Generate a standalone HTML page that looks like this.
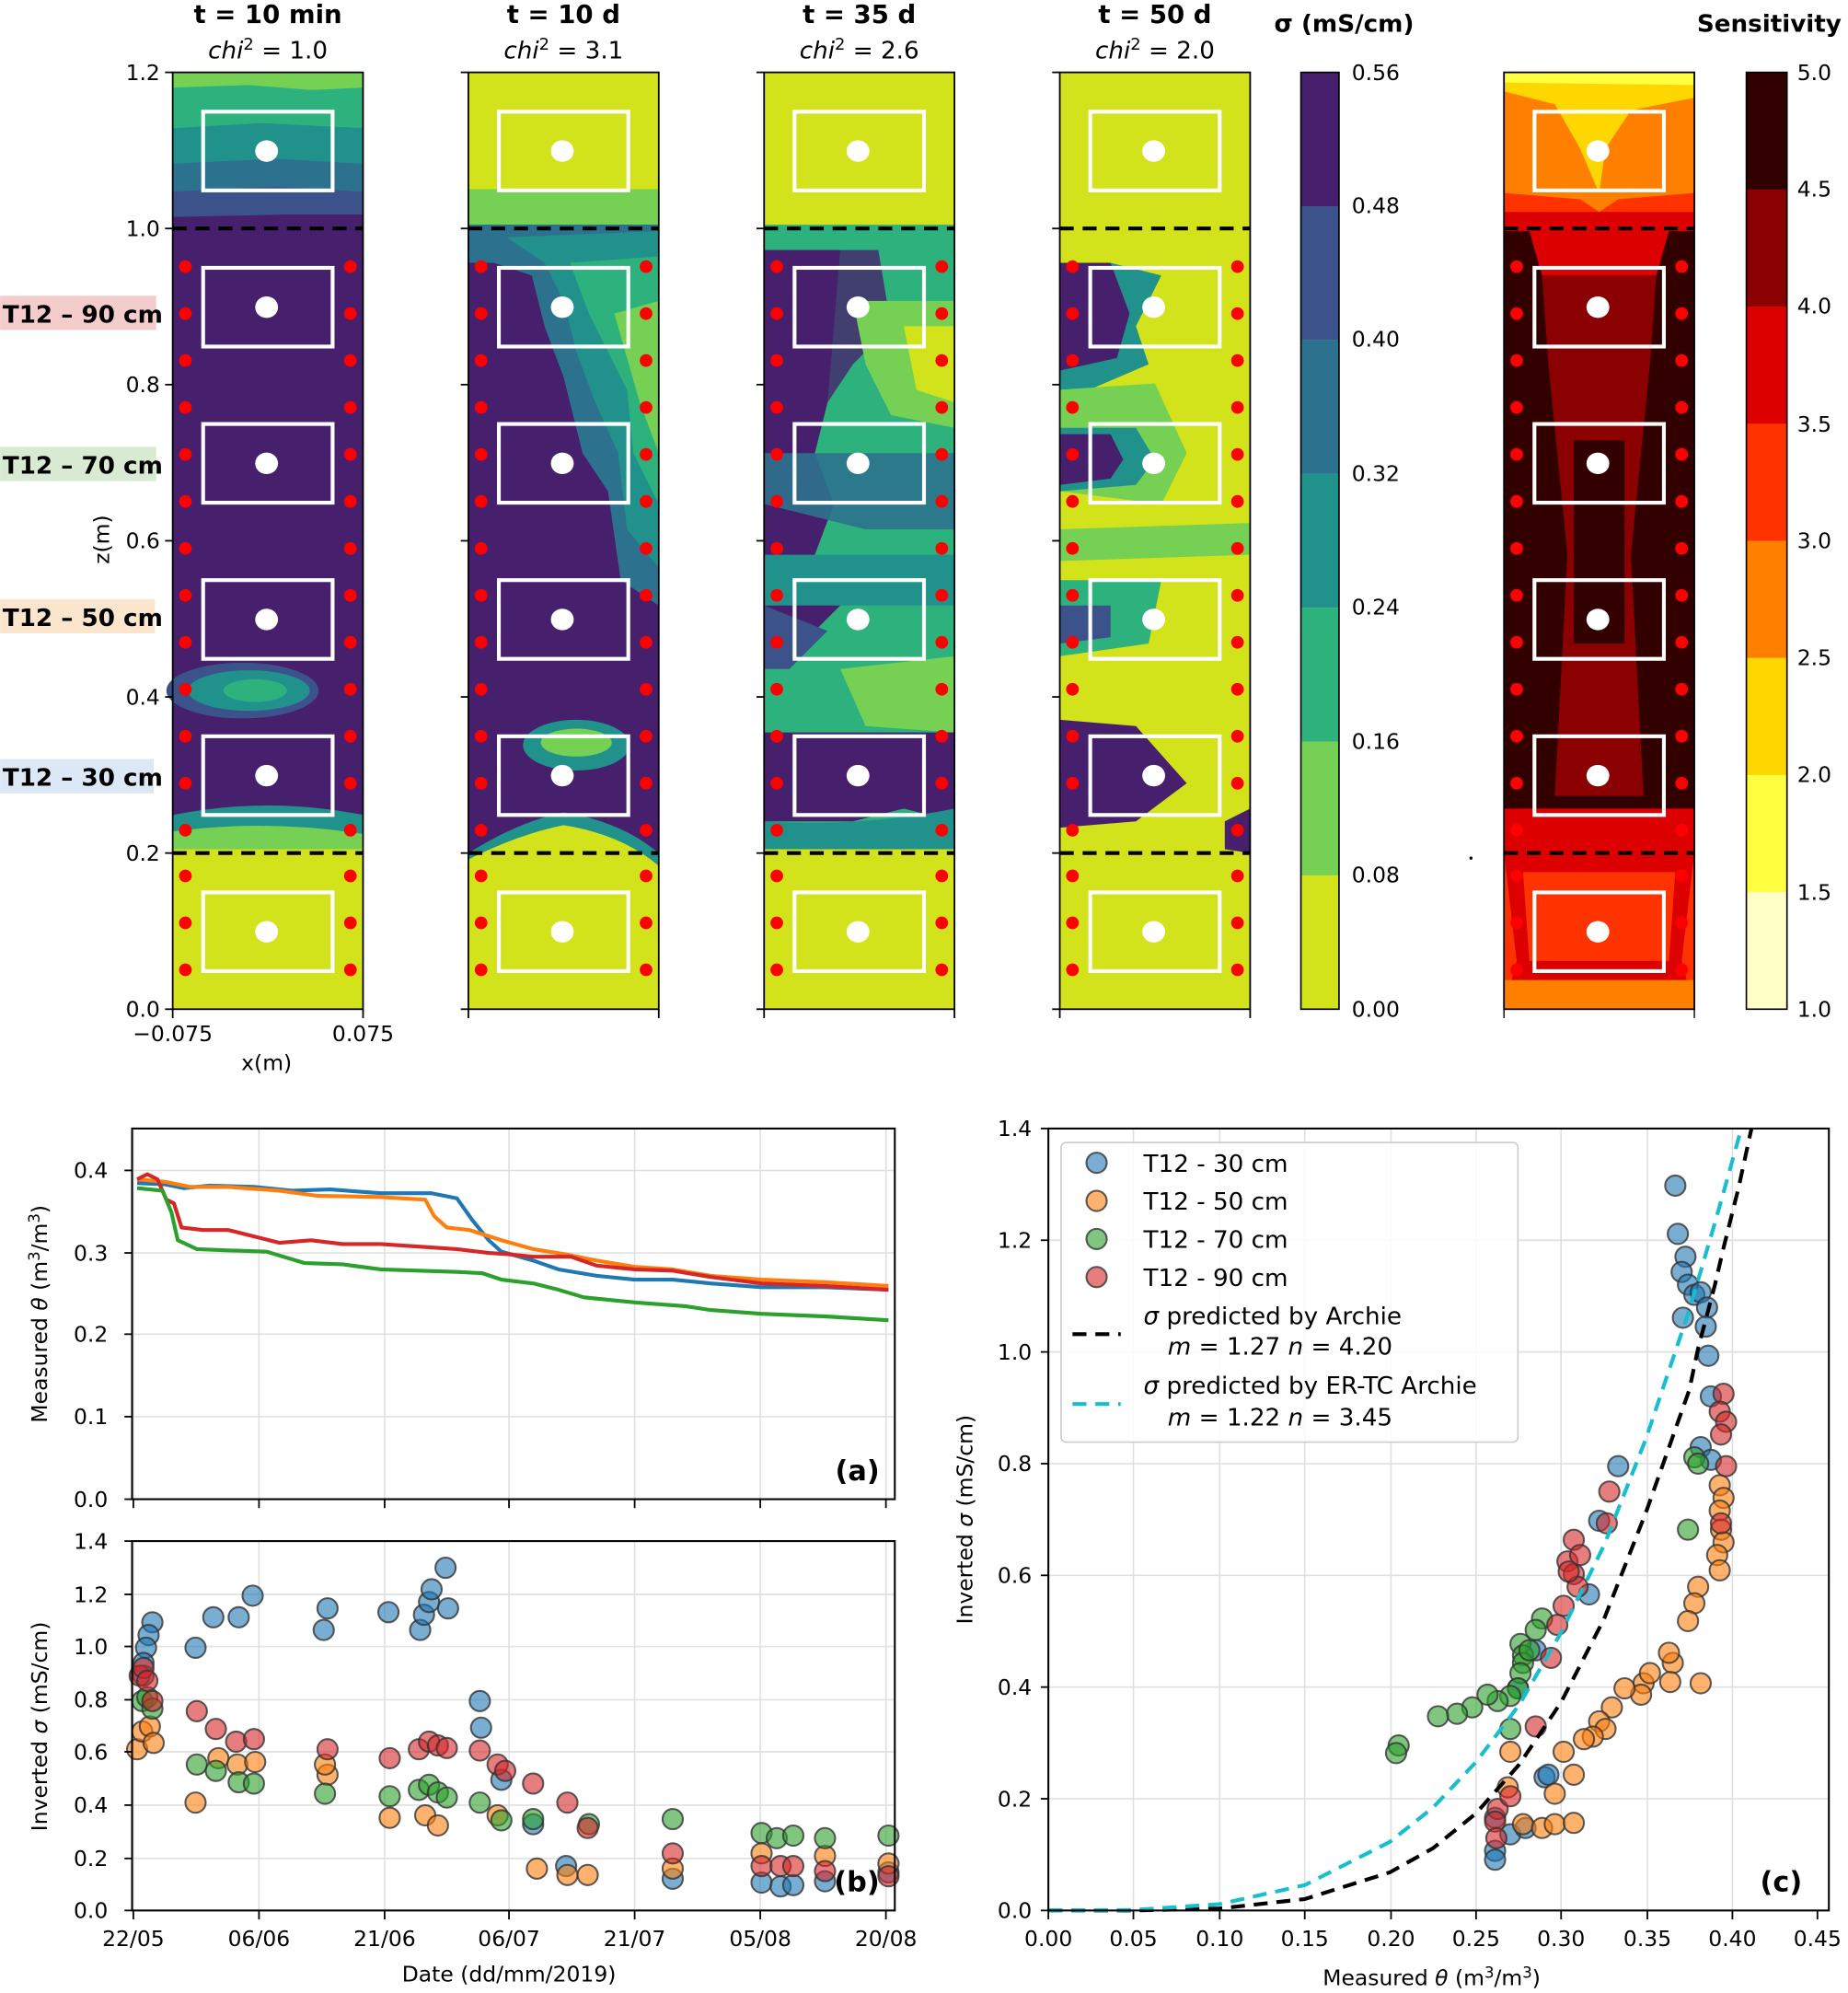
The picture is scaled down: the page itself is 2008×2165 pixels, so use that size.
<!DOCTYPE html>
<html><head><meta charset="utf-8"><style>
html,body{margin:0;padding:0;background:#fff}
svg{display:block}
text{font-family:"DejaVu Sans","Liberation Sans",sans-serif;fill:#000}
.t{font-size:17px}
.b{font-weight:bold}
.g{stroke:#e0e0e0;stroke-width:1.2}
.sb circle{fill:#1f77b4}.so circle{fill:#ff7f0e}.sg circle{fill:#2ca02c}.sr circle{fill:#d62728}
.sc circle{r:8;fill-opacity:.6;stroke:#333;stroke-opacity:.8;stroke-width:1.5}
</style></head><body>
<svg width="2008" height="2165" viewBox="0 0 1456 1570" xmlns="http://www.w3.org/2000/svg">
<defs>
<g id="boxes" fill="none" stroke="#fff" stroke-width="3">
<rect x="24" y="31" width="102" height="62"/><rect x="24" y="154" width="102" height="62"/>
<rect x="24" y="277" width="102" height="62"/><rect x="24" y="400" width="102" height="62"/>
<rect x="24" y="523" width="102" height="62"/><rect x="24" y="646" width="102" height="62"/>
<g fill="#fff" stroke="none"><ellipse cx="74" cy="62" rx="9" ry="8.5"/><ellipse cx="74" cy="185" rx="9" ry="8.5"/><ellipse cx="74" cy="308" rx="9" ry="8.5"/><ellipse cx="74" cy="431" rx="9" ry="8.5"/><ellipse cx="74" cy="554" rx="9" ry="8.5"/><ellipse cx="74" cy="677" rx="9" ry="8.5"/></g>
</g>
<g id="dots" fill="#f00">
<circle cx="10" cy="153" r="5"/><circle cx="10" cy="190" r="5"/><circle cx="10" cy="227" r="5"/><circle cx="10" cy="264" r="5"/><circle cx="10" cy="301" r="5"/><circle cx="10" cy="338" r="5"/><circle cx="10" cy="375" r="5"/><circle cx="10" cy="412" r="5"/><circle cx="10" cy="449" r="5"/><circle cx="10" cy="486" r="5"/><circle cx="10" cy="523" r="5"/><circle cx="10" cy="560" r="5"/><circle cx="10" cy="597" r="5"/><circle cx="10" cy="633" r="5"/><circle cx="10" cy="670" r="5"/><circle cx="10" cy="707" r="5"/>
<circle cx="140" cy="153" r="5"/><circle cx="140" cy="190" r="5"/><circle cx="140" cy="227" r="5"/><circle cx="140" cy="264" r="5"/><circle cx="140" cy="301" r="5"/><circle cx="140" cy="338" r="5"/><circle cx="140" cy="375" r="5"/><circle cx="140" cy="412" r="5"/><circle cx="140" cy="449" r="5"/><circle cx="140" cy="486" r="5"/><circle cx="140" cy="523" r="5"/><circle cx="140" cy="560" r="5"/><circle cx="140" cy="597" r="5"/><circle cx="140" cy="633" r="5"/><circle cx="140" cy="670" r="5"/><circle cx="140" cy="707" r="5"/>
</g>
<g id="frame">
<line x1="0" y1="123" x2="150" y2="123" stroke="#000" stroke-width="3" stroke-dasharray="11,7"/>
<line x1="0" y1="615" x2="150" y2="615" stroke="#000" stroke-width="3" stroke-dasharray="11,7"/>
<rect x="0" y="0" width="150" height="738" fill="none" stroke="#000" stroke-width="1.3"/>
<g stroke="#000" stroke-width="1.3"><line x1="0" y1="0" x2="-6" y2="0"/><line x1="0" y1="123" x2="-6" y2="123"/><line x1="0" y1="246" x2="-6" y2="246"/><line x1="0" y1="369" x2="-6" y2="369"/><line x1="0" y1="492" x2="-6" y2="492"/><line x1="0" y1="615" x2="-6" y2="615"/><line x1="0" y1="738" x2="-6" y2="738"/><line x1="0" y1="738" x2="0" y2="745"/><line x1="150" y1="738" x2="150" y2="745"/></g>
</g>
</defs>

<!-- Panel 1 -->
<g transform="translate(136,57)">
<rect width="150" height="738" fill="#46206d"/>
<rect width="150" height="14" fill="#75d054"/>
<path d="M0 12 L60 10 L110 14 L150 12 L150 45 L80 42 L0 46Z" fill="#2db27d"/>
<path d="M0 44 L70 40 L150 44 L150 72 L90 70 L0 74Z" fill="#21918c"/>
<path d="M0 72 L80 68 L150 72 L150 95 L90 92 L0 96Z" fill="#2c728e"/>
<path d="M0 94 L80 90 L150 94 L150 112 L90 112 L0 114Z" fill="#3b528b"/>
<ellipse cx="55" cy="487" rx="60" ry="22" fill="#3b528b"/>
<ellipse cx="60" cy="487" rx="48" ry="16" fill="#21918c"/>
<ellipse cx="65" cy="487" rx="25" ry="9" fill="#2db27d"/>
<path d="M0 585 Q75 570 150 585 L150 615 L0 615Z" fill="#21918c"/>
<path d="M0 598 Q75 588 150 600 L150 615 L0 615Z" fill="#75d054"/>
<rect y="612" width="150" height="126" fill="#d2e21b"/>
<use href="#boxes"/><use href="#dots"/><use href="#frame"/>
</g>

<!-- Panel 2 -->
<g transform="translate(369,57)">
<rect width="150" height="738" fill="#d2e21b"/>
<rect y="92" width="150" height="28" fill="#75d054"/>
<rect y="120" width="150" height="500" fill="#46206d"/>
<path d="M0 120 L150 120 L150 420 L120 400 L110 330 L90 300 L75 240 L60 200 L50 160 L20 150 L0 150Z" fill="#2c728e"/>
<path d="M30 130 L150 125 L150 390 L125 360 L118 300 L100 260 L85 220 L75 180 L60 150Z" fill="#21918c"/>
<path d="M80 150 L150 145 L150 340 L130 300 L125 250 L110 220 L95 190Z" fill="#2db27d"/>
<path d="M115 190 L150 180 L150 300 L135 260Z" fill="#75d054"/>
<ellipse cx="85" cy="530" rx="42" ry="20" fill="#21918c"/>
<ellipse cx="85" cy="528" rx="28" ry="11" fill="#75d054"/>
<path d="M0 615 Q40 590 75 583 Q120 590 150 615 L150 738 L0 738Z" fill="#21918c"/>
<path d="M0 620 Q40 600 75 593 Q120 600 150 625 L150 738 L0 738Z" fill="#d2e21b"/>
<use href="#boxes"/><use href="#dots"/><use href="#frame"/>
</g>

<!-- Panel 3 -->
<g transform="translate(602,57)">
<rect width="150" height="738" fill="#d2e21b"/>
<rect y="120" width="150" height="500" fill="#2db27d"/>
<path d="M0 140 L60 140 L55 200 L50 260 L40 300 L55 340 L40 380 L60 420 L30 450 L0 450Z" fill="#46206d"/>
<path d="M60 140 L90 140 L100 200 L70 230 L50 260 L0 260 L0 140Z" fill="#46206d" opacity=".8"/>
<path d="M70 180 L150 180 L150 280 L100 270 L80 230Z" fill="#75d054"/>
<path d="M110 200 L150 200 L150 260 L120 250Z" fill="#d2e21b"/>
<path d="M0 300 L150 300 L150 360 L80 360 L0 340Z" fill="#2c728e" opacity=".9"/>
<path d="M0 380 L150 380 L150 420 L0 420Z" fill="#21918c"/>
<path d="M0 420 L50 440 L20 470 L0 470Z" fill="#3b528b"/>
<path d="M60 470 L150 460 L150 520 L80 515Z" fill="#75d054"/>
<path d="M0 520 L150 520 L150 590 L110 580 L70 590 L0 590Z" fill="#46206d"/>
<path d="M0 590 Q75 595 150 580 L150 615 L0 615Z" fill="#21918c"/>
<rect y="612" width="150" height="126" fill="#d2e21b"/>
<use href="#boxes"/><use href="#dots"/><use href="#frame"/>
</g>

<!-- Panel 4 -->
<g transform="translate(835,57)">
<rect width="150" height="738" fill="#d2e21b"/>
<path d="M0 150 L40 150 L60 190 L45 230 L0 240Z" fill="#46206d"/>
<path d="M40 150 L80 160 L60 200 L70 230 L0 260 L0 235 L45 225 L55 190Z" fill="#21918c"/>
<path d="M0 250 L75 245 L100 300 L80 340 L0 330Z" fill="#75d054"/>
<path d="M0 280 L60 280 L75 305 L60 325 L0 330Z" fill="#21918c"/>
<path d="M0 285 L40 285 L50 305 L40 320 L0 325Z" fill="#46206d"/>
<path d="M0 360 L150 355 L150 380 L0 385Z" fill="#75d054"/>
<path d="M0 400 L80 400 L70 450 L0 460Z" fill="#2db27d"/>
<path d="M0 420 L40 420 L40 445 L0 450Z" fill="#3b528b"/>
<path d="M0 510 L60 515 L100 560 L60 590 L0 595Z" fill="#46206d"/>
<path d="M130 590 L150 580 L150 615 L130 612Z" fill="#46206d"/>
<use href="#boxes"/><use href="#dots"/><use href="#frame"/>
</g>

<!-- Sensitivity panel -->
<g transform="translate(1185,57)">
<rect width="150" height="738" fill="#330000"/>
<rect width="150" height="125" fill="#ff8000"/>
<path d="M0 0 L150 0 L150 20 L100 30 L80 60 L75 95 L60 60 L40 25 L0 15Z" fill="#ffd700"/>
<path d="M0 0 L150 0 L150 10 L0 8Z" fill="#ffff40"/>
<path d="M0 95 L60 100 L75 110 L90 100 L150 95 L150 125 L0 125Z" fill="#ff3300"/>
<path d="M0 110 L150 110 L150 125 L0 125Z" fill="#dd0000"/>
<path d="M20 125 L130 125 L120 160 L100 180 L50 180 L30 160Z" fill="#dd0000"/>
<path d="M30 160 L120 160 L115 230 L100 380 L110 570 L40 570 L50 380 L35 230Z" fill="#8b0000"/>
<path d="M55 290 L95 290 L95 450 L55 450Z" fill="#330000"/>
<path d="M0 580 L150 580 L150 620 L0 620Z" fill="#dd0000"/>
<rect y="615" width="150" height="123" fill="#ff3300"/>
<path d="M0 615 L150 615 L140 700 L150 738 L0 738 L10 700Z" fill="#dd0000"/>
<path d="M15 630 L135 630 L130 700 L20 700Z" fill="#ff3300"/>
<path d="M0 715 L150 715 L150 738 L0 738Z" fill="#ff8000"/>
<use href="#boxes"/><use href="#dots"/>
<line x1="0" y1="123" x2="150" y2="123" stroke="#000" stroke-width="3" stroke-dasharray="11,7"/>
<line x1="0" y1="615" x2="150" y2="615" stroke="#000" stroke-width="3" stroke-dasharray="11,7"/>
<rect width="150" height="738" fill="none" stroke="#000" stroke-width="1.3"/>
<line x1="0" y1="738" x2="0" y2="745" stroke="#000"/><line x1="150" y1="738" x2="150" y2="745" stroke="#000"/>
</g>
<circle cx="1159" cy="676" r="1.2" fill="#000"/>

<!-- sigma colorbar -->
<g transform="translate(1025,57)">
<rect y="0" width="30" height="105.5" fill="#46206d"/><rect y="105.4" width="30" height="105.5" fill="#3b528b"/><rect y="210.9" width="30" height="105.5" fill="#2c728e"/><rect y="316.3" width="30" height="105.5" fill="#21918c"/><rect y="421.7" width="30" height="105.5" fill="#2db27d"/><rect y="527.1" width="30" height="105.5" fill="#75d054"/><rect y="632.6" width="30" height="105.4" fill="#d2e21b"/>
<rect width="30" height="738" fill="none" stroke="#000" stroke-width="1.2"/>
<g class="t"><text x="40" y="6">0.56</text><text x="40" y="111">0.48</text><text x="40" y="216">0.40</text><text x="40" y="322">0.32</text><text x="40" y="427">0.24</text><text x="40" y="533">0.16</text><text x="40" y="638">0.08</text><text x="40" y="744">0.00</text></g>
</g>
<!-- sensitivity colorbar -->
<g transform="translate(1376,57)">
<rect y="0" width="32" height="92.5" fill="#330000"/><rect y="92.25" width="32" height="92.5" fill="#8b0000"/><rect y="184.5" width="32" height="92.5" fill="#dd0000"/><rect y="276.75" width="32" height="92.5" fill="#ff3300"/><rect y="369" width="32" height="92.5" fill="#ff8000"/><rect y="461.25" width="32" height="92.5" fill="#ffd700"/><rect y="553.5" width="32" height="92.5" fill="#ffff40"/><rect y="645.75" width="32" height="92.25" fill="#ffffc8"/>
<rect width="32" height="738" fill="none" stroke="#000" stroke-width="1.2"/>
<g class="t"><text x="40" y="6">5.0</text><text x="40" y="98">4.5</text><text x="40" y="190">4.0</text><text x="40" y="283">3.5</text><text x="40" y="375">3.0</text><text x="40" y="467">2.5</text><text x="40" y="559">2.0</text><text x="40" y="652">1.5</text><text x="40" y="744">1.0</text></g>
</g>

<!-- top titles -->
<g font-size="20" text-anchor="middle">
<text x="211" y="18" class="b" font-size="20">t = 10 min</text><text x="211" y="46" font-size="19"><tspan font-style="italic">chi</tspan><tspan dy="-7" font-size="13">2</tspan><tspan dy="7"> =  1.0</tspan></text>
<text x="444" y="18" class="b" font-size="20">t = 10 d</text><text x="444" y="46" font-size="19"><tspan font-style="italic">chi</tspan><tspan dy="-7" font-size="13">2</tspan><tspan dy="7"> =  3.1</tspan></text>
<text x="677" y="18" class="b" font-size="20">t = 35 d</text><text x="677" y="46" font-size="19"><tspan font-style="italic">chi</tspan><tspan dy="-7" font-size="13">2</tspan><tspan dy="7"> =  2.6</tspan></text>
<text x="910" y="18" class="b" font-size="20">t = 50 d</text><text x="910" y="46" font-size="19"><tspan font-style="italic">chi</tspan><tspan dy="-7" font-size="13">2</tspan><tspan dy="7"> =  2.0</tspan></text>
<text x="1059" y="25" class="b" font-size="19">σ (mS/cm)</text>
<text x="1394" y="25" class="b" font-size="19">Sensitivity</text>
</g>
<g class="t" text-anchor="end">
<text x="126" y="63">1.2</text><text x="126" y="186">1.0</text><text x="126" y="309">0.8</text><text x="126" y="432">0.6</text><text x="126" y="555">0.4</text><text x="126" y="678">0.2</text><text x="126" y="801">0.0</text>
</g>
<text class="t" x="136" y="820" text-anchor="middle">−0.075</text><text class="t" x="286" y="820" text-anchor="middle">0.075</text>
<text class="t" x="210" y="843" text-anchor="middle">x(m)</text>
<text class="t" transform="translate(86,425) rotate(-90)" text-anchor="middle">z(m)</text>
<rect x="0" y="233" width="123" height="27" fill="#f4cccc"/><rect x="0" y="352" width="123" height="27" fill="#d9ead3"/><rect x="0" y="472" width="122" height="27" fill="#fce5cd"/><rect x="0" y="598" width="121" height="27" fill="#dce8f5"/>
<g class="b" font-size="19"><text x="2" y="254">T12 – 90 cm</text><text x="2" y="373">T12 – 70 cm</text><text x="2" y="493">T12 – 50 cm</text><text x="2" y="619">T12 – 30 cm</text></g>

<!-- (a) -->
<g>
<g class="g"><line x1="105" y1="889" x2="105" y2="1181"/><line x1="204" y1="889" x2="204" y2="1181"/><line x1="303" y1="889" x2="303" y2="1181"/><line x1="401" y1="889" x2="401" y2="1181"/><line x1="500" y1="889" x2="500" y2="1181"/><line x1="599" y1="889" x2="599" y2="1181"/><line x1="698" y1="889" x2="698" y2="1181"/>
<line x1="98" y1="922" x2="705" y2="922"/><line x1="98" y1="987" x2="705" y2="987"/><line x1="98" y1="1051" x2="705" y2="1051"/><line x1="98" y1="1116" x2="705" y2="1116"/></g>
<g fill="none" stroke-width="3" stroke-linejoin="round">
<polyline stroke="#1f77b4" points="108,932 130,933 145,936 165,934 200,935 230,938 260,937 300,940 340,940 360,944 372,961 385,977 395,986 420,993 440,1000 470,1005 500,1008 530,1008 560,1011 600,1014 650,1014 700,1016"/>
<polyline stroke="#ff7f0e" points="108,929 130,931 150,935 180,935 220,938 250,942 300,943 335,945 342,958 352,967 370,969 395,977 420,984 445,988 470,993 500,998 530,1000 560,1005 600,1008 650,1010 700,1013"/>
<polyline stroke="#d62728" points="108,929 116,925 124,929 131,945 137,948 143,967 160,969 180,969 200,974 220,979 245,977 270,980 300,980 330,982 360,984 385,987 400,988 420,990 450,990 470,997 500,1000 530,1001 560,1006 600,1011 650,1013 700,1016"/>
<polyline stroke="#2ca02c" points="108,936 128,938 135,955 140,977 155,984 180,985 210,986 240,995 270,996 300,1000 330,1001 360,1002 380,1003 395,1008 420,1011 440,1016 460,1022 500,1026 540,1029 560,1032 600,1035 650,1037 700,1040"/>
</g>
<rect x="104" y="889" width="601" height="292" fill="none" stroke="#000" stroke-width="1.5"/>
<g stroke="#000" stroke-width="1.3"><line x1="104" y1="922" x2="98" y2="922"/><line x1="104" y1="987" x2="98" y2="987"/><line x1="104" y1="1051" x2="98" y2="1051"/><line x1="104" y1="1116" x2="98" y2="1116"/><line x1="104" y1="1181" x2="98" y2="1181"/>
<line x1="105" y1="1181" x2="105" y2="1188"/><line x1="204" y1="1181" x2="204" y2="1188"/><line x1="303" y1="1181" x2="303" y2="1188"/><line x1="401" y1="1181" x2="401" y2="1188"/><line x1="500" y1="1181" x2="500" y2="1188"/><line x1="599" y1="1181" x2="599" y2="1188"/><line x1="698" y1="1181" x2="698" y2="1188"/></g>
<g class="t" text-anchor="end"><text x="85" y="928">0.4</text><text x="85" y="993">0.3</text><text x="85" y="1057">0.2</text><text x="85" y="1122">0.1</text><text x="85" y="1187">0.0</text></g>
<text class="t" transform="translate(37,1035) rotate(-90)" text-anchor="middle">Measured <tspan font-style="italic">θ</tspan> (m<tspan dy="-6" font-size="12">3</tspan><tspan dy="6">/m</tspan><tspan dy="-6" font-size="12">3</tspan><tspan dy="6">)</tspan></text>
<text x="693" y="1166" text-anchor="end" class="b" font-size="22">(a)</text>
</g>

<!-- (b) -->
<g>
<g class="g"><line x1="105" y1="1214" x2="105" y2="1505"/><line x1="204" y1="1214" x2="204" y2="1505"/><line x1="303" y1="1214" x2="303" y2="1505"/><line x1="401" y1="1214" x2="401" y2="1505"/><line x1="500" y1="1214" x2="500" y2="1505"/><line x1="599" y1="1214" x2="599" y2="1505"/><line x1="698" y1="1214" x2="698" y2="1505"/>
<line x1="98" y1="1256" x2="705" y2="1256"/><line x1="98" y1="1297" x2="705" y2="1297"/><line x1="98" y1="1339" x2="705" y2="1339"/><line x1="98" y1="1380" x2="705" y2="1380"/><line x1="98" y1="1422" x2="705" y2="1422"/><line x1="98" y1="1464" x2="705" y2="1464"/></g>
<g class="sc">
<g class="sb"><circle cx="120" cy="1278"/><circle cx="117" cy="1288"/><circle cx="115" cy="1298"/><circle cx="113" cy="1310"/><circle cx="113" cy="1320"/><circle cx="154" cy="1298"/><circle cx="168" cy="1274"/><circle cx="188" cy="1274"/><circle cx="199" cy="1257"/><circle cx="255" cy="1284"/><circle cx="258" cy="1267"/><circle cx="306" cy="1270"/><circle cx="331" cy="1284"/><circle cx="334" cy="1272"/><circle cx="338" cy="1262"/><circle cx="340" cy="1252"/><circle cx="353" cy="1267"/><circle cx="351" cy="1235"/><circle cx="378" cy="1340"/><circle cx="379" cy="1361"/><circle cx="395" cy="1402"/><circle cx="420" cy="1437"/><circle cx="446" cy="1470"/><circle cx="530" cy="1480"/><circle cx="600" cy="1483"/><circle cx="615" cy="1486"/><circle cx="625" cy="1485"/><circle cx="650" cy="1482"/><circle cx="700" cy="1475"/></g>
<g class="so"><circle cx="108" cy="1378"/><circle cx="112" cy="1364"/><circle cx="118" cy="1360"/><circle cx="121" cy="1373"/><circle cx="154" cy="1420"/><circle cx="172" cy="1385"/><circle cx="187" cy="1390"/><circle cx="201" cy="1388"/><circle cx="258" cy="1398"/><circle cx="256" cy="1390"/><circle cx="307" cy="1432"/><circle cx="335" cy="1430"/><circle cx="345" cy="1438"/><circle cx="392" cy="1430"/><circle cx="423" cy="1472"/><circle cx="447" cy="1477"/><circle cx="463" cy="1477"/><circle cx="530" cy="1472"/><circle cx="600" cy="1460"/><circle cx="650" cy="1462"/><circle cx="700" cy="1468"/></g>
<g class="sg"><circle cx="112" cy="1340"/><circle cx="116" cy="1337"/><circle cx="120" cy="1346"/><circle cx="155" cy="1390"/><circle cx="170" cy="1395"/><circle cx="188" cy="1404"/><circle cx="200" cy="1405"/><circle cx="256" cy="1413"/><circle cx="307" cy="1415"/><circle cx="330" cy="1410"/><circle cx="338" cy="1406"/><circle cx="345" cy="1412"/><circle cx="352" cy="1416"/><circle cx="378" cy="1420"/><circle cx="395" cy="1434"/><circle cx="420" cy="1433"/><circle cx="464" cy="1437"/><circle cx="530" cy="1433"/><circle cx="600" cy="1444"/><circle cx="612" cy="1448"/><circle cx="625" cy="1446"/><circle cx="650" cy="1448"/><circle cx="700" cy="1446"/></g>
<g class="sr"><circle cx="110" cy="1320"/><circle cx="113" cy="1314"/><circle cx="116" cy="1324"/><circle cx="120" cy="1340"/><circle cx="155" cy="1348"/><circle cx="170" cy="1362"/><circle cx="186" cy="1372"/><circle cx="200" cy="1370"/><circle cx="258" cy="1378"/><circle cx="307" cy="1385"/><circle cx="330" cy="1378"/><circle cx="338" cy="1372"/><circle cx="345" cy="1375"/><circle cx="352" cy="1377"/><circle cx="378" cy="1379"/><circle cx="392" cy="1390"/><circle cx="398" cy="1395"/><circle cx="420" cy="1405"/><circle cx="447" cy="1420"/><circle cx="463" cy="1440"/><circle cx="530" cy="1460"/><circle cx="600" cy="1470"/><circle cx="615" cy="1470"/><circle cx="625" cy="1470"/><circle cx="650" cy="1474"/><circle cx="700" cy="1478"/></g>
</g>
<rect x="104" y="1214" width="601" height="291" fill="none" stroke="#000" stroke-width="1.5"/>
<g stroke="#000" stroke-width="1.3"><line x1="104" y1="1214" x2="98" y2="1214"/><line x1="104" y1="1256" x2="98" y2="1256"/><line x1="104" y1="1297" x2="98" y2="1297"/><line x1="104" y1="1339" x2="98" y2="1339"/><line x1="104" y1="1380" x2="98" y2="1380"/><line x1="104" y1="1422" x2="98" y2="1422"/><line x1="104" y1="1464" x2="98" y2="1464"/><line x1="104" y1="1505" x2="98" y2="1505"/>
<line x1="105" y1="1505" x2="105" y2="1512"/><line x1="204" y1="1505" x2="204" y2="1512"/><line x1="303" y1="1505" x2="303" y2="1512"/><line x1="401" y1="1505" x2="401" y2="1512"/><line x1="500" y1="1505" x2="500" y2="1512"/><line x1="599" y1="1505" x2="599" y2="1512"/><line x1="698" y1="1505" x2="698" y2="1512"/></g>
<g class="t" text-anchor="end"><text x="85" y="1220">1.4</text><text x="85" y="1262">1.2</text><text x="85" y="1303">1.0</text><text x="85" y="1345">0.8</text><text x="85" y="1386">0.6</text><text x="85" y="1428">0.4</text><text x="85" y="1470">0.2</text><text x="85" y="1511">0.0</text></g>
<g class="t" text-anchor="middle"><text x="105" y="1533">22/05</text><text x="204" y="1533">06/06</text><text x="303" y="1533">21/06</text><text x="401" y="1533">06/07</text><text x="500" y="1533">21/07</text><text x="599" y="1533">05/08</text><text x="698" y="1533">20/08</text></g>
<text class="t" x="401" y="1561" text-anchor="middle">Date (dd/mm/2019)</text>
<text class="t" transform="translate(37,1360) rotate(-90)" text-anchor="middle">Inverted <tspan font-style="italic">σ</tspan> (mS/cm)</text>
<text x="693" y="1490" text-anchor="end" class="b" font-size="22">(b)</text>
</g>

<!-- (c) -->
<g>
<g class="g"><line x1="893" y1="889" x2="893" y2="1505"/><line x1="961" y1="889" x2="961" y2="1505"/><line x1="1028" y1="889" x2="1028" y2="1505"/><line x1="1096" y1="889" x2="1096" y2="1505"/><line x1="1163" y1="889" x2="1163" y2="1505"/><line x1="1230" y1="889" x2="1230" y2="1505"/><line x1="1298" y1="889" x2="1298" y2="1505"/><line x1="1365" y1="889" x2="1365" y2="1505"/>
<line x1="826" y1="977" x2="1441" y2="977"/><line x1="826" y1="1065" x2="1441" y2="1065"/><line x1="826" y1="1153" x2="1441" y2="1153"/><line x1="826" y1="1241" x2="1441" y2="1241"/><line x1="826" y1="1329" x2="1441" y2="1329"/><line x1="826" y1="1417" x2="1441" y2="1417"/></g>
<g class="sc">
<g class="sb"><circle cx="1320" cy="934"/><circle cx="1322" cy="972"/><circle cx="1328" cy="990"/><circle cx="1325" cy="1002"/><circle cx="1330" cy="1012"/><circle cx="1335" cy="1020"/><circle cx="1340" cy="1018"/><circle cx="1345" cy="1030"/><circle cx="1344" cy="1045"/><circle cx="1346" cy="1068"/><circle cx="1326" cy="1038"/><circle cx="1348" cy="1100"/><circle cx="1340" cy="1140"/><circle cx="1348" cy="1150"/><circle cx="1275" cy="1155"/><circle cx="1260" cy="1198"/><circle cx="1252" cy="1256"/><circle cx="1210" cy="1300"/><circle cx="1196" cy="1330"/><circle cx="1217" cy="1400"/><circle cx="1178" cy="1432"/><circle cx="1178" cy="1458"/><circle cx="1178" cy="1465"/><circle cx="1190" cy="1445"/><circle cx="1202" cy="1440"/><circle cx="1220" cy="1398"/></g>
<g class="so"><circle cx="1355" cy="1170"/><circle cx="1358" cy="1180"/><circle cx="1355" cy="1190"/><circle cx="1356" cy="1205"/><circle cx="1358" cy="1215"/><circle cx="1353" cy="1225"/><circle cx="1355" cy="1237"/><circle cx="1338" cy="1250"/><circle cx="1335" cy="1263"/><circle cx="1330" cy="1277"/><circle cx="1318" cy="1310"/><circle cx="1316" cy="1325"/><circle cx="1295" cy="1326"/><circle cx="1293" cy="1335"/><circle cx="1340" cy="1326"/><circle cx="1270" cy="1345"/><circle cx="1260" cy="1356"/><circle cx="1265" cy="1362"/><circle cx="1255" cy="1368"/><circle cx="1248" cy="1370"/><circle cx="1232" cy="1380"/><circle cx="1240" cy="1398"/><circle cx="1225" cy="1413"/><circle cx="1200" cy="1437"/><circle cx="1215" cy="1440"/><circle cx="1225" cy="1437"/><circle cx="1240" cy="1436"/><circle cx="1190" cy="1380"/><circle cx="1188" cy="1408"/><circle cx="1280" cy="1330"/><circle cx="1300" cy="1318"/><circle cx="1315" cy="1302"/></g>
<g class="sg"><circle cx="1335" cy="1148"/><circle cx="1338" cy="1153"/><circle cx="1330" cy="1205"/><circle cx="1198" cy="1295"/><circle cx="1200" cy="1304"/><circle cx="1200" cy="1310"/><circle cx="1198" cy="1318"/><circle cx="1196" cy="1330"/><circle cx="1190" cy="1336"/><circle cx="1180" cy="1340"/><circle cx="1172" cy="1335"/><circle cx="1160" cy="1345"/><circle cx="1148" cy="1350"/><circle cx="1133" cy="1352"/><circle cx="1102" cy="1375"/><circle cx="1100" cy="1381"/><circle cx="1190" cy="1362"/><circle cx="1215" cy="1275"/><circle cx="1210" cy="1284"/><circle cx="1205" cy="1300"/></g>
<g class="sr"><circle cx="1358" cy="1098"/><circle cx="1355" cy="1112"/><circle cx="1360" cy="1120"/><circle cx="1356" cy="1130"/><circle cx="1360" cy="1155"/><circle cx="1356" cy="1200"/><circle cx="1268" cy="1175"/><circle cx="1266" cy="1200"/><circle cx="1240" cy="1213"/><circle cx="1235" cy="1230"/><circle cx="1240" cy="1240"/><circle cx="1245" cy="1225"/><circle cx="1243" cy="1250"/><circle cx="1236" cy="1238"/><circle cx="1232" cy="1265"/><circle cx="1227" cy="1280"/><circle cx="1222" cy="1306"/><circle cx="1210" cy="1360"/><circle cx="1180" cy="1425"/><circle cx="1178" cy="1435"/><circle cx="1179" cy="1448"/><circle cx="1190" cy="1415"/></g>
</g>
<g fill="none" stroke-width="3" stroke-dasharray="11,7">
<polyline stroke="#000" points="826,1505 893,1505 961,1503.4 1028,1496 1095,1475 1129,1456 1163,1428.5 1197,1390 1230,1341 1264,1275 1297,1191 1331,1095 1338,1062 1351,1013 1358,983 1370,935 1380,889"/>
<polyline stroke="#17becf" points="826,1505 893,1504.6 961,1500 1028,1485 1095,1451 1129,1424 1163,1388 1197,1343 1230,1286 1264,1217 1297,1133 1331,1032 1351,964 1362,925 1372,889"/>
</g>
<rect x="826" y="889" width="615" height="616" fill="none" stroke="#000" stroke-width="1.5"/>
<rect x="836" y="900" width="360" height="236" rx="4" fill="#fff" fill-opacity=".85" stroke="#ccc" stroke-width="1.2"/>
<g class="sc"><circle cx="864" cy="916" style="fill:#1f77b4"/><circle cx="864" cy="946" style="fill:#ff7f0e"/><circle cx="864" cy="976" style="fill:#2ca02c"/><circle cx="864" cy="1006" style="fill:#d62728"/></g>
<line x1="845" y1="1051" x2="883" y2="1051" stroke="#000" stroke-width="3" stroke-dasharray="11,7"/>
<line x1="845" y1="1106" x2="883" y2="1106" stroke="#17becf" stroke-width="3" stroke-dasharray="11,7"/>
<g font-size="19"><text x="901" y="923">T12 - 30 cm</text><text x="901" y="953">T12 - 50 cm</text><text x="901" y="983">T12 - 70 cm</text><text x="901" y="1013">T12 - 90 cm</text>
<text x="901" y="1043"><tspan font-style="italic">σ</tspan> predicted by Archie</text><text x="920" y="1067"><tspan font-style="italic">m</tspan> = 1.27   <tspan font-style="italic">n</tspan> = 4.20</text>
<text x="901" y="1098"><tspan font-style="italic">σ</tspan> predicted by ER-TC Archie</text><text x="920" y="1123"><tspan font-style="italic">m</tspan> = 1.22   <tspan font-style="italic">n</tspan> = 3.45</text></g>
<g stroke="#000" stroke-width="1.3"><line x1="826" y1="889" x2="820" y2="889"/><line x1="826" y1="977" x2="820" y2="977"/><line x1="826" y1="1065" x2="820" y2="1065"/><line x1="826" y1="1153" x2="820" y2="1153"/><line x1="826" y1="1241" x2="820" y2="1241"/><line x1="826" y1="1329" x2="820" y2="1329"/><line x1="826" y1="1417" x2="820" y2="1417"/><line x1="826" y1="1505" x2="820" y2="1505"/>
<line x1="826" y1="1505" x2="826" y2="1512"/><line x1="893" y1="1505" x2="893" y2="1512"/><line x1="961" y1="1505" x2="961" y2="1512"/><line x1="1028" y1="1505" x2="1028" y2="1512"/><line x1="1096" y1="1505" x2="1096" y2="1512"/><line x1="1163" y1="1505" x2="1163" y2="1512"/><line x1="1230" y1="1505" x2="1230" y2="1512"/><line x1="1298" y1="1505" x2="1298" y2="1512"/><line x1="1365" y1="1505" x2="1365" y2="1512"/><line x1="1432" y1="1505" x2="1432" y2="1512"/></g>
<g class="t" text-anchor="end"><text x="813" y="895">1.4</text><text x="813" y="983">1.2</text><text x="813" y="1071">1.0</text><text x="813" y="1159">0.8</text><text x="813" y="1247">0.6</text><text x="813" y="1335">0.4</text><text x="813" y="1423">0.2</text><text x="813" y="1511">0.0</text></g>
<g class="t" text-anchor="middle"><text x="826" y="1533">0.00</text><text x="893" y="1533">0.05</text><text x="961" y="1533">0.10</text><text x="1028" y="1533">0.15</text><text x="1096" y="1533">0.20</text><text x="1163" y="1533">0.25</text><text x="1230" y="1533">0.30</text><text x="1298" y="1533">0.35</text><text x="1365" y="1533">0.40</text><text x="1432" y="1533">0.45</text></g>
<text class="t" x="1128" y="1564" text-anchor="middle">Measured <tspan font-style="italic">θ</tspan> (m<tspan dy="-6" font-size="12">3</tspan><tspan dy="6">/m</tspan><tspan dy="-6" font-size="12">3</tspan><tspan dy="6">)</tspan></text>
<text class="t" transform="translate(766,1197) rotate(-90)" text-anchor="middle">Inverted <tspan font-style="italic">σ</tspan> (mS/cm)</text>
<text x="1420" y="1490" text-anchor="end" class="b" font-size="22">(c)</text>
</g>
</svg>
</body></html>
